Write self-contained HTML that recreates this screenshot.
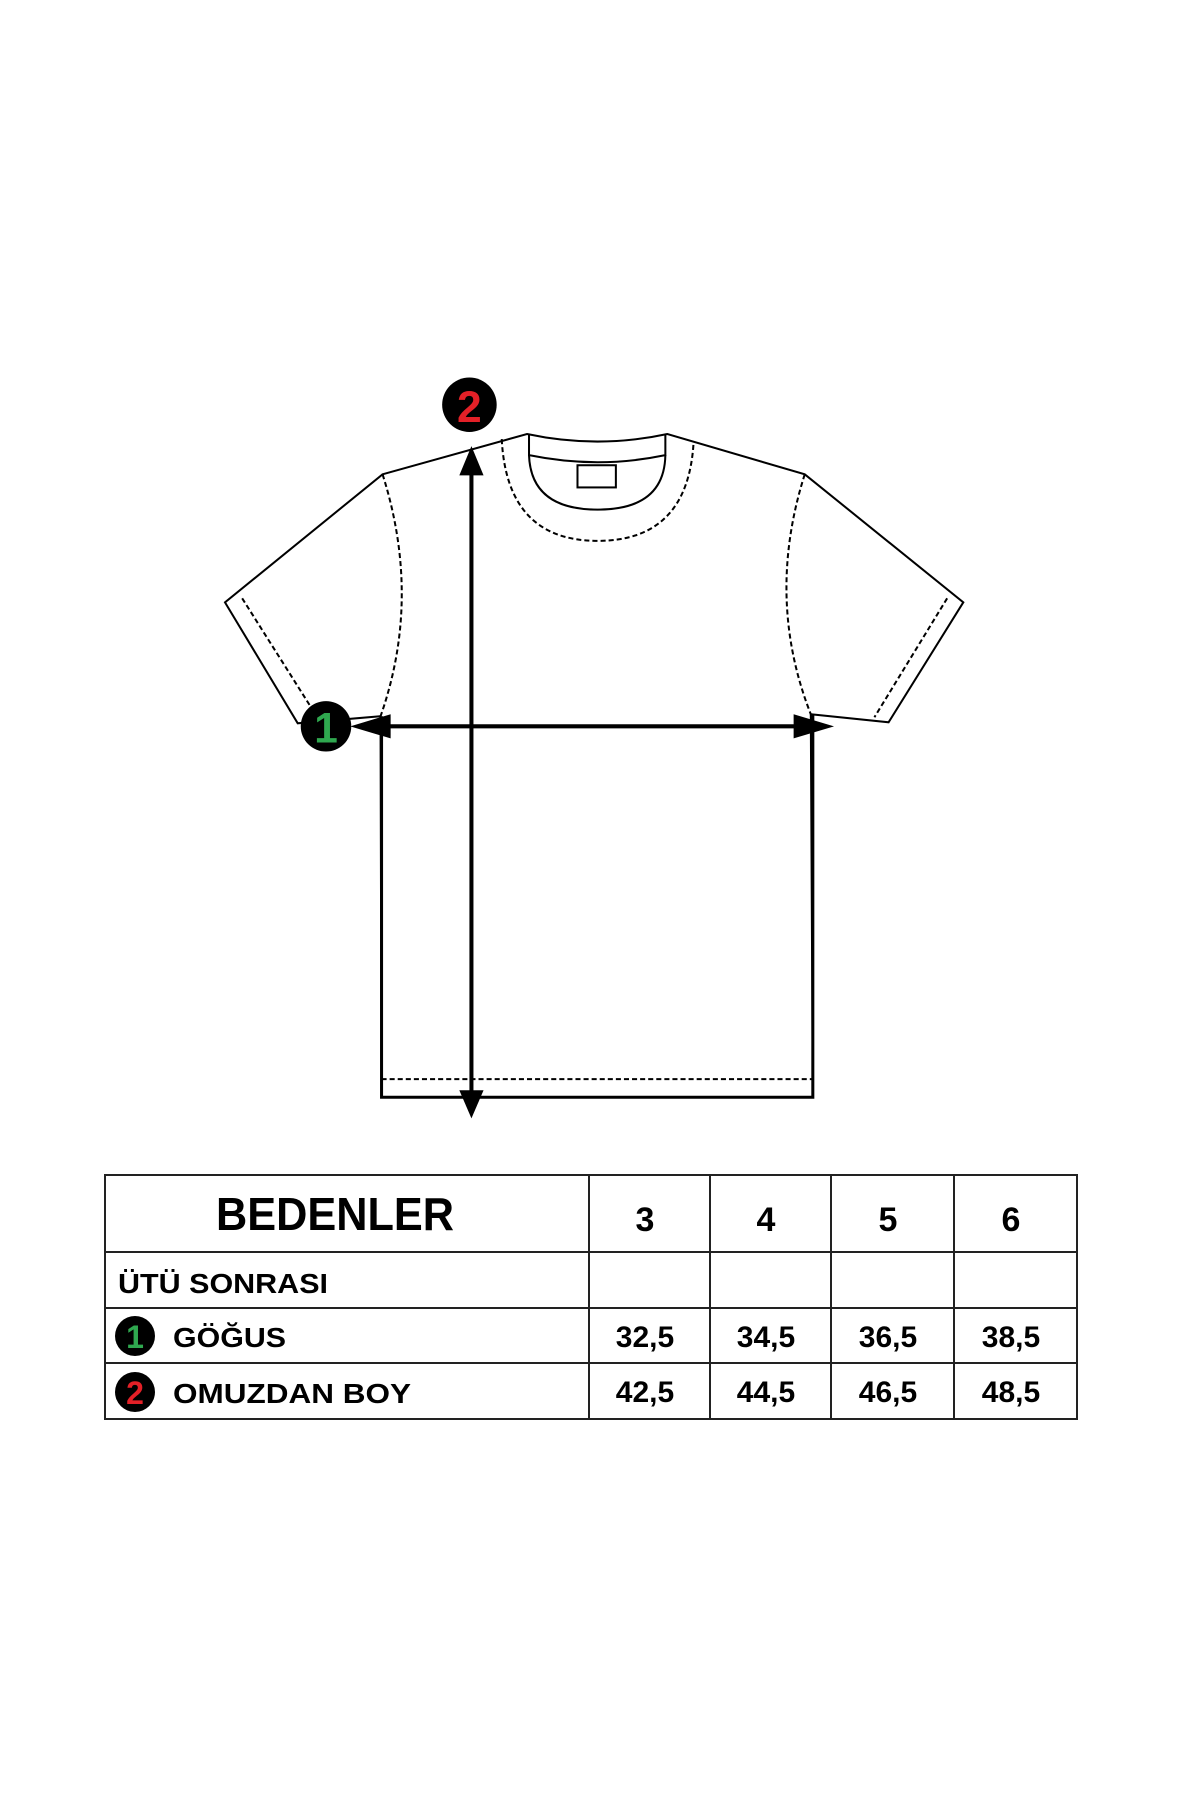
<!DOCTYPE html>
<html><head><meta charset="utf-8"><style>
html,body{margin:0;padding:0;background:#fff}
svg{display:block}
text{font-family:"Liberation Sans",sans-serif;font-weight:bold;fill:#000}
</style></head><body>
<svg width="1200" height="1800" viewBox="0 0 1200 1800" xmlns="http://www.w3.org/2000/svg">
<g transform="translate(2,3) translate(223,431) scale(1.01,1.008) translate(-223,-431)">
<g fill="none" stroke="#000" stroke-width="2">
<path d="M379 471 L522 431 Q592 446 661 431 L797 471 L954 598 L880 717 L803 709 L805 1089 L378 1089 L377 711 L295 718 L223 598 Z" fill="#fff"/>
<path d="M378 711 L378 1089 L805 1089 L805 709" stroke-width="3"/>
<path d="M524 431 L524 452 Q592 466 659 452 L659 431"/>
<path d="M524 452 Q526 506 592 506 Q658 506 659 452"/>
<path d="M497 436 Q502 537 592 537 Q682 537 687 438" stroke-dasharray="5,3"/>
<rect x="572" y="462" width="38" height="22"/>
<path d="M379 471 Q418 594 377 711" stroke-dasharray="5,3"/>
<path d="M797 471 Q758 594 803 709" stroke-dasharray="5,3"/>
<path d="M240 594 L310 705" stroke-dasharray="5,3"/>
<path d="M938 594 L866 712" stroke-dasharray="5,3"/>
<path d="M378 1071 L805 1071" stroke-dasharray="5,3"/>
</g>
<g stroke="#000" stroke-width="4">
<line x1="467" y1="465" x2="467" y2="1090"/>
<line x1="365" y1="721" x2="805" y2="721"/>
</g>
<g fill="#000">
<polygon points="467,443 455,472 479,472"/>
<polygon points="467,1110 455,1082 479,1082"/>
<polygon points="347,721 387,709 387,733"/>
<polygon points="826,721 786,709 786,733"/>
</g>
<circle cx="465" cy="402" r="27" fill="#000"/>
<text x="465" y="419" font-size="44" text-anchor="middle" style="fill:#e32027">2</text>
<circle cx="323" cy="721" r="25" fill="#000"/>
<text x="323" y="737" font-size="42" text-anchor="middle" style="fill:#2fa84f">1</text>
</g>
<g fill="none" stroke="#222" stroke-width="2">
<rect x="105" y="1175" width="972" height="244"/>
<line x1="105" y1="1252" x2="1077" y2="1252"/>
<line x1="105" y1="1308" x2="1077" y2="1308"/>
<line x1="105" y1="1363" x2="1077" y2="1363"/>
<line x1="589" y1="1175" x2="589" y2="1419"/>
<line x1="710" y1="1175" x2="710" y2="1419"/>
<line x1="831" y1="1175" x2="831" y2="1419"/>
<line x1="954" y1="1175" x2="954" y2="1419"/>
</g>
<text x="335" y="1230" font-size="46" text-anchor="middle" textLength="238" lengthAdjust="spacingAndGlyphs">BEDENLER</text>
<g font-size="34" text-anchor="middle">
<text x="645" y="1231">3</text><text x="766" y="1231">4</text><text x="888" y="1231">5</text><text x="1011" y="1231">6</text>
</g>
<text x="118" y="1293" font-size="28" textLength="210" lengthAdjust="spacingAndGlyphs">ÜTÜ SONRASI</text>
<circle cx="135" cy="1336" r="20" fill="#000"/>
<text x="135" y="1348" font-size="32" text-anchor="middle" style="fill:#2fa84f">1</text>
<text x="173" y="1347" font-size="28" textLength="113" lengthAdjust="spacingAndGlyphs">GÖĞUS</text>
<circle cx="135" cy="1392" r="20" fill="#000"/>
<text x="135" y="1404" font-size="32" text-anchor="middle" style="fill:#e32027">2</text>
<text x="173" y="1403" font-size="28" textLength="238" lengthAdjust="spacingAndGlyphs">OMUZDAN BOY</text>
<g font-size="30" text-anchor="middle">
<text x="645" y="1347">32,5</text><text x="766" y="1347">34,5</text><text x="888" y="1347">36,5</text><text x="1011" y="1347">38,5</text>
<text x="645" y="1402">42,5</text><text x="766" y="1402">44,5</text><text x="888" y="1402">46,5</text><text x="1011" y="1402">48,5</text>
</g>
</svg>
</body></html>
